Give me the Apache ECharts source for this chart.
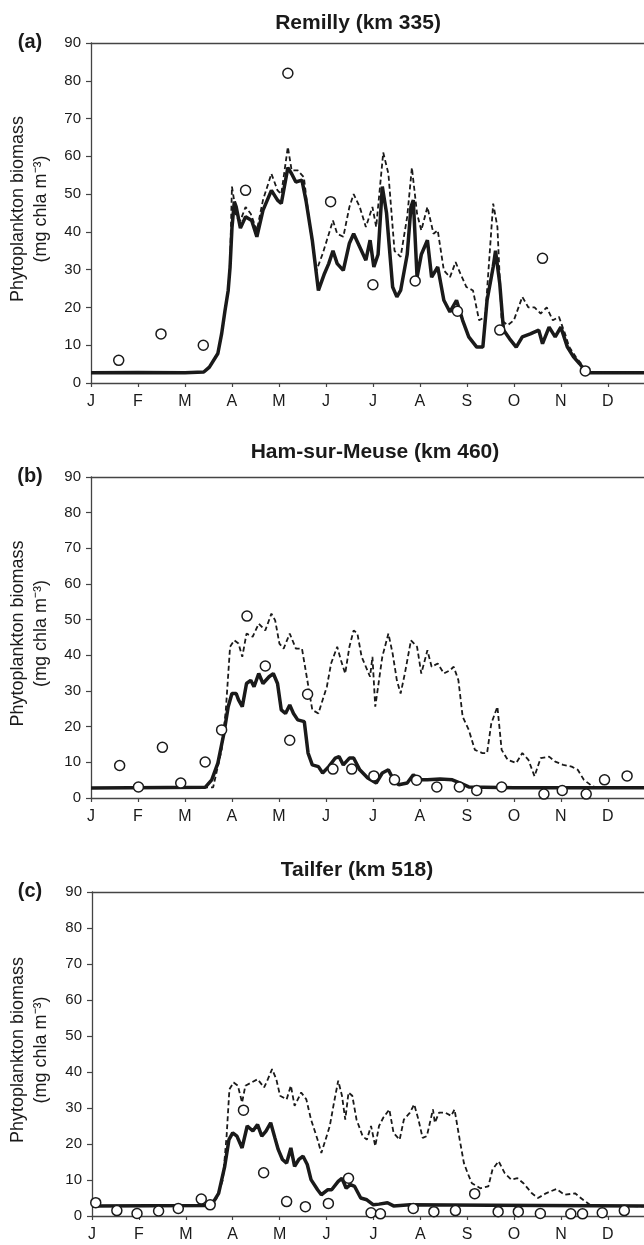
<!DOCTYPE html>
<html>
<head>
<meta charset="utf-8">
<script src="https://cdn.jsdelivr.net/npm/echarts@6/dist/echarts.min.js"></script>
<style>
  html, body { margin: 0; padding: 0; background: #fff; }
  #chart { width: 644px; height: 1245px; }
</style>
</head>
<body>
<div id="chart"></div>
<script>
// x values are in months from 1 January (0 = J, 1 = F, ...)
var monthLabels = ['J', 'F', 'M', 'A', 'M', 'J', 'J', 'A', 'S', 'O', 'N', 'D'];
var panelTitles = ['Remilly (km 335)', 'Ham-sur-Meuse (km 460)', 'Tailfer (km 518)'];
var panelLetters = ['(a)', '(b)', '(c)'];

// (a) Remilly
var remillySolid = [[0,2.7],[1,2.8],[2,2.7],[2.4,2.9],[2.52,4.2],[2.7,7.8],[2.78,13],[2.85,19],[2.92,24.5],[2.96,30.7],[3.0,41],[3.05,48],[3.09,46.6],[3.18,41],[3.29,44],[3.42,43],[3.53,38.7],[3.66,45.7],[3.84,51],[3.97,48.4],[4.05,47.5],[4.19,57],[4.27,55.4],[4.36,53.2],[4.49,53.7],[4.58,48],[4.71,37.8],[4.84,24.5],[4.97,29],[5.06,31.6],[5.15,35],[5.24,31.6],[5.37,29.8],[5.5,37],[5.59,39.5],[5.72,36],[5.85,32.5],[5.94,37.8],[6.02,30.7],[6.11,34],[6.2,52],[6.29,45],[6.42,25.4],[6.51,22.8],[6.59,24.5],[6.73,34],[6.81,46.6],[6.86,48.4],[6.94,28],[7.03,34],[7.16,37.8],[7.25,28],[7.38,30.7],[7.51,21.9],[7.64,18.8],[7.78,21.9],[7.91,16.6],[8.04,12.2],[8.21,9.5],[8.34,9.5],[8.43,21.9],[8.56,30.7],[8.61,35],[8.7,26.3],[8.78,14],[8.91,11.7],[9.05,9.5],[9.18,12.2],[9.35,13],[9.53,14],[9.61,10.4],[9.75,14.8],[9.88,12.2],[10.0,14.8],[10.14,9.5],[10.27,6.9],[10.4,5.1],[10.53,3.1],[10.6,2.7],[11.77,2.7]];
var remillyDashed = [[0,2.7],[2.4,2.9],[2.52,4.2],[2.7,7.8],[2.78,13],[2.85,19],[2.92,24.5],[2.96,32],[3.0,52],[3.05,48],[3.09,44],[3.18,43],[3.29,46.6],[3.4,44.8],[3.53,40.4],[3.66,48.4],[3.84,55.4],[3.97,51],[4.05,50],[4.19,62.5],[4.27,56.3],[4.4,56.3],[4.53,54.5],[4.66,41.3],[4.8,29.8],[4.93,34.2],[5.02,37.8],[5.15,43],[5.24,39.5],[5.37,38.7],[5.5,46.6],[5.59,50],[5.72,46.6],[5.85,41.3],[5.99,46.6],[6.07,41.3],[6.22,61],[6.33,55.4],[6.46,35],[6.59,33.4],[6.73,44],[6.83,57],[6.94,44.8],[7.03,40.4],[7.16,46.6],[7.29,39.5],[7.38,40.4],[7.51,29.8],[7.64,28],[7.76,32],[7.86,29],[7.99,25.4],[8.13,24.5],[8.26,16.6],[8.39,17.5],[8.56,47.5],[8.65,41.3],[8.74,16.6],[8.87,15.3],[9.0,16.6],[9.18,22.8],[9.31,20],[9.44,20],[9.57,18.4],[9.7,20],[9.83,16.6],[9.96,17.5],[10.09,13],[10.18,9.5],[10.32,6.9],[10.49,4.2],[10.58,2.9],[11.77,2.7]];
var remillyObs = [[0.59,6],[1.49,13],[2.39,10],[3.29,51],[4.19,82],[5.10,48],[6.0,26],[6.90,27],[7.80,19],[8.70,14],[9.61,33],[10.52,3.2]];

// (b) Ham-sur-Meuse
var hamSolid = [[0,2.8],[2.43,3.0],[2.57,5.1],[2.7,9.8],[2.83,18.2],[2.92,25.6],[3.0,29.3],[3.09,29.3],[3.14,27.5],[3.22,25.6],[3.31,32.1],[3.4,33],[3.47,31.2],[3.57,34.9],[3.66,32.1],[3.79,34],[3.88,34.9],[3.97,32.1],[4.05,24.7],[4.14,23.7],[4.23,26.1],[4.31,23.7],[4.4,21.9],[4.54,21.4],[4.62,12.6],[4.71,9.3],[4.84,8.8],[4.93,7],[5.06,8.8],[5.2,11.2],[5.28,11.6],[5.37,9.3],[5.5,11.2],[5.59,11.2],[5.72,7.9],[5.89,5.6],[6.07,4.2],[6.2,7],[6.33,7.9],[6.42,5.6],[6.55,3.7],[6.73,4.2],[6.86,6.5],[6.99,5.1],[7.16,5.1],[7.43,5.3],[7.69,5.1],[7.86,4.2],[8.04,3.1],[9.0,2.9],[11.77,2.9]];
var hamDashed = [[0,2.8],[2.6,3.0],[2.78,13.5],[2.87,24.7],[2.96,42.4],[3.05,44.2],[3.14,43.3],[3.22,39.6],[3.31,46.1],[3.44,45.2],[3.57,48.9],[3.71,47],[3.84,51.7],[3.92,49.8],[4.01,43.3],[4.1,41.9],[4.23,46.1],[4.36,41.9],[4.49,41.9],[4.58,34.9],[4.71,24.7],[4.84,23.7],[4.93,27.5],[5.02,31.2],[5.11,37.7],[5.24,42.4],[5.32,38.6],[5.41,34.9],[5.5,42.4],[5.59,47],[5.67,46.1],[5.76,39.6],[5.85,36.8],[5.94,34],[5.99,39.6],[6.05,25.6],[6.12,32.1],[6.2,39.6],[6.33,46.1],[6.42,40.5],[6.51,33],[6.59,29.3],[6.68,34.9],[6.81,44.2],[6.94,42.4],[7.03,34.9],[7.16,41.4],[7.25,36.8],[7.38,37.7],[7.51,34.9],[7.64,35.8],[7.72,36.8],[7.82,33],[7.91,22.8],[8.04,19.1],[8.17,13.5],[8.33,12.6],[8.43,12.6],[8.52,20.9],[8.65,25.6],[8.74,13.5],[8.87,10.7],[9.05,9.8],[9.18,12.6],[9.31,10.7],[9.44,6.1],[9.57,11.2],[9.75,11.6],[9.88,10.2],[10.05,9.3],[10.23,8.8],[10.36,7.9],[10.49,5.1],[10.67,3.3],[10.8,2.8],[11.77,2.8]];
var hamObs = [[0.61,9.1],[1.01,3.1],[1.52,14.2],[1.91,4.2],[2.43,10.1],[2.78,19.1],[3.32,51],[3.71,37],[4.23,16.2],[4.61,29.1],[5.15,8.1],[5.55,8.1],[6.02,6.2],[6.46,5.1],[6.93,5.0],[7.36,3.1],[7.84,3.1],[8.21,2.1],[8.74,3.1],[9.64,1.1],[10.03,2.1],[10.54,1.1],[10.93,5.1],[11.41,6.2]];

// (c) Tailfer
var tailferSolid = [[0,2.8],[2.45,2.9],[2.57,3.5],[2.7,6.3],[2.83,13.8],[2.92,21.2],[3.0,23.1],[3.09,22.2],[3.2,18.9],[3.31,25],[3.43,23.6],[3.53,25.4],[3.62,22.2],[3.71,23.6],[3.81,25.9],[3.9,21.7],[3.97,18.5],[4.06,15.7],[4.15,14.7],[4.24,18.9],[4.32,13.8],[4.41,15.7],[4.5,16.6],[4.59,14.3],[4.67,10.1],[4.81,7.3],[4.89,5.9],[5.03,7.3],[5.11,7.3],[5.25,9.6],[5.33,10.5],[5.42,7.7],[5.51,8.7],[5.6,8.2],[5.73,5],[5.86,4.5],[6.0,3.1],[6.12,3.3],[6.3,3.7],[6.43,2.8],[6.78,3.1],[8.5,3.0],[11.77,2.8]];
var tailferDashed = [[0,2.8],[2.6,2.9],[2.79,10],[2.87,22.2],[2.93,35.2],[3.02,37.1],[3.11,36.2],[3.2,31.5],[3.27,36.2],[3.4,37.1],[3.53,38],[3.67,35.7],[3.75,38],[3.84,40.8],[3.93,38],[4.01,33.4],[4.15,32.4],[4.24,36.2],[4.32,30.6],[4.46,34.3],[4.57,32.4],[4.67,26.8],[4.81,21.2],[4.89,17.5],[4.98,21.2],[5.07,25],[5.16,31.5],[5.25,37.6],[5.33,33.4],[5.4,26.8],[5.47,34.3],[5.55,33.4],[5.64,26.8],[5.77,22.2],[5.86,21.2],[5.95,25],[6.04,19.4],[6.12,25],[6.21,27.3],[6.34,29.6],[6.43,23.1],[6.56,21.2],[6.65,26.8],[6.78,28.7],[6.87,31],[6.96,26.8],[7.05,21.7],[7.14,22.2],[7.27,29.6],[7.31,25.9],[7.4,28.7],[7.53,28.7],[7.66,27.8],[7.73,29.6],[7.84,21.2],[7.93,14.7],[8.01,11.9],[8.1,9.1],[8.28,7.7],[8.45,8.2],[8.54,12.9],[8.67,15.2],[8.8,11.9],[8.94,10.1],[9.07,10.5],[9.2,9.1],[9.38,6.3],[9.51,5],[9.68,6.3],[9.9,7.5],[10.08,5.9],[10.3,6.3],[10.47,4.5],[10.65,2.8],[11.77,2.7]];
var tailferObs = [[0.08,3.7],[0.53,1.5],[0.96,0.7],[1.42,1.4],[1.84,2.1],[2.33,4.7],[2.52,3.1],[3.23,29.4],[3.66,12],[4.15,4.0],[4.55,2.6],[5.04,3.5],[5.47,10.5],[5.95,0.9],[6.15,0.6],[6.85,2.1],[7.29,1.2],[7.75,1.5],[8.16,6.2],[8.66,1.2],[9.09,1.2],[9.56,0.7],[10.21,0.6],[10.46,0.6],[10.88,0.9],[11.35,1.5]];

var solidSets = [remillySolid, hamSolid, tailferSolid];
var dashedSets = [remillyDashed, hamDashed, tailferDashed];
var obsSets = [remillyObs, hamObs, tailferObs];

var FONT = '"Liberation Sans", Arial, Helvetica, sans-serif';
var INK = '#1a1a1a';
var AXIS = '#444';
var XMAX = 11.77;

// layout of the three panels (pixels)
var grids = [
  { left: 91, top: 43, height: 340 },
  { left: 91, top: 477, height: 321 },
  { left: 92, top: 892, height: 324 }
];
var titlePos = [[358, 23], [375, 452], [357, 870]];

var chart = echarts.init(document.getElementById('chart'));

var option = {
  animation: false,
  backgroundColor: '#fff',
  grid: grids.map(function (g) {
    return { left: g.left, top: g.top, height: g.height, right: 0, containLabel: false };
  }),
  xAxis: [],
  yAxis: [],
  series: [],
  graphic: []
};

grids.forEach(function (g, i) {
  option.xAxis.push({
    type: 'value', gridIndex: i, min: 0, max: XMAX, interval: 1,
    axisLine: { show: true, lineStyle: { color: AXIS, width: 1.3 } },
    axisTick: { show: true, length: 4, lineStyle: { color: AXIS, width: 1.2 } },
    axisLabel: {
      color: INK, fontSize: 16, fontFamily: FONT, margin: 11, showMaxLabel: false,
      formatter: function (v) { return Number.isInteger(v) && v < 12 ? monthLabels[v] : ''; }
    },
    splitLine: { show: false }
  });
  // frame line along the top
  option.xAxis.push({
    type: 'value', gridIndex: i, position: 'top', min: 0, max: XMAX,
    axisLine: { show: true, lineStyle: { color: AXIS, width: 1.3 } },
    axisTick: { show: false }, axisLabel: { show: false }, splitLine: { show: false }
  });
  option.yAxis.push({
    type: 'value', gridIndex: i, min: 0, max: 90, interval: 10,
    axisLine: { show: true, lineStyle: { color: AXIS, width: 1.3 } },
    axisTick: { show: true, length: 5, lineStyle: { color: AXIS, width: 1.2 } },
    axisLabel: { color: INK, fontSize: 15, fontFamily: FONT, margin: 10 },
    splitLine: { show: false }
  });

  option.series.push({
    name: 'Simulated', type: 'line', xAxisIndex: 2 * i, yAxisIndex: i,
    data: solidSets[i], showSymbol: false, symbol: 'none',
    lineStyle: { color: INK, width: 3.5 }, z: 2
  });
  option.series.push({
    name: 'Simulated (dashed)', type: 'line', xAxisIndex: 2 * i, yAxisIndex: i,
    data: dashedSets[i], showSymbol: false, symbol: 'none',
    lineStyle: { color: INK, width: 1.8, type: [5, 3] }, z: 3
  });
  option.series.push({
    name: 'Observed', type: 'scatter', xAxisIndex: 2 * i, yAxisIndex: i,
    data: obsSets[i], symbol: 'circle', symbolSize: 10,
    itemStyle: { color: '#fff', borderColor: INK, borderWidth: 1.5, opacity: 1 }, z: 4
  });

  var mid = g.top + g.height / 2 - 4;
  option.graphic.push(
    { type: 'text', x: titlePos[i][0], y: titlePos[i][1],
      style: { text: panelTitles[i], font: 'bold 21px ' + FONT, fill: INK, textAlign: 'center', textVerticalAlign: 'middle' } },
    { type: 'text', x: 30, y: g.top - 1,
      style: { text: panelLetters[i], font: 'bold 20px ' + FONT, fill: INK, textAlign: 'center', textVerticalAlign: 'middle' } },
    { type: 'text', x: 18, y: mid, rotation: Math.PI / 2,
      style: { text: 'Phytoplankton biomass', font: '18px ' + FONT, fill: INK, textAlign: 'center', textVerticalAlign: 'middle' } },
    { type: 'text', x: 41, y: mid, rotation: Math.PI / 2,
      style: { text: '(mg chla m\u207B\u00B3)', font: '18px ' + FONT, fill: INK, textAlign: 'center', textVerticalAlign: 'middle' } }
  );
});

chart.setOption(option);
window.addEventListener('resize', function () { chart.resize(); });
</script>
</body>
</html>
